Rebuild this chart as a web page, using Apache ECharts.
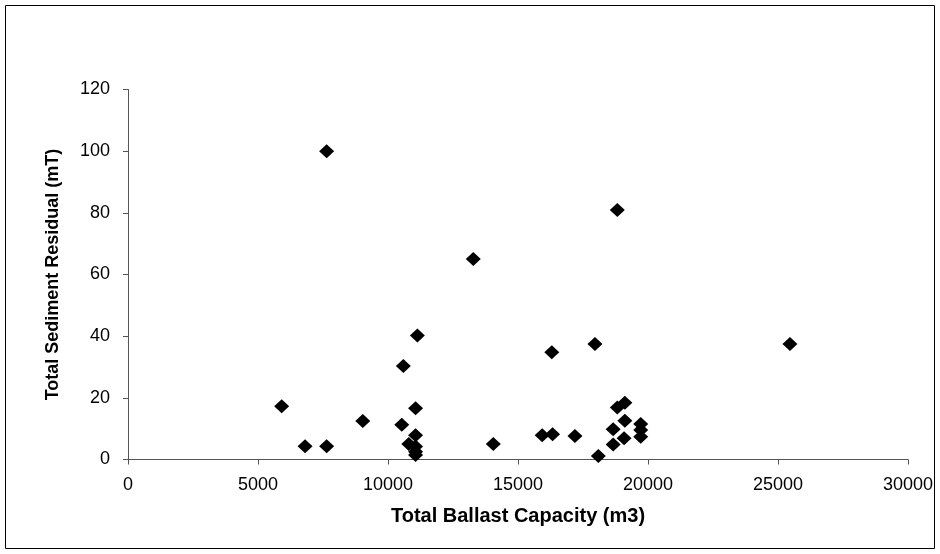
<!DOCTYPE html>
<html lang="en">
<head>
    <meta charset="utf-8">
    <script src="https://cdn.jsdelivr.net/npm/echarts@6/dist/echarts.min.js"></script>
    <title></title>
    <style>
        body { margin: 0; background: #fff; }
    </style>
</head>
<body>
<div id="main" style="width: 940px;height:554px;"></div>
<script type="text/javascript">
    // ballast capacity (m3) and sediment residual (mT)
    var capacity = [5910, 6810, 7640, 7640, 9030, 10530, 10590, 10800, 11060, 11060, 11060, 11060, 11060, 11130,
        13280, 14050, 15930, 16300, 16330, 17190, 17960, 18090, 18660, 18660, 18820, 18820, 19080, 19110, 19110,
        19720, 19720, 19720, 25460];
    var residual = [17.3, 4.3, 4.3, 100, 12.5, 11.3, 30.3, 5.0, 16.6, 7.9, 4.2, 2.5, 1.5, 40.2,
        65.0, 5.0, 7.9, 34.8, 8.2, 7.6, 37.5, 1.1, 9.8, 4.9, 16.9, 80.9, 6.9, 12.6, 18.4,
        11.5, 9.6, 7.4, 37.5];

    var points = capacity.map(function (c, i) { return [c, residual[i]]; });

    var myChart = echarts.init(document.getElementById('main'));
    var font = 'Liberation Sans, Arial, sans-serif';
    var axisLine = {show: true, lineStyle: {color: '#555', width: 1}};
    var axisTick = {show: true, inside: false, length: 5, lineStyle: {color: '#555'}};

    var option = {
        animation: false,
        graphic: [{
            type: 'rect',
            shape: {x: 5.5, y: 5.5, width: 929, height: 543},
            style: {fill: 'none', stroke: '#000', lineWidth: 1}
        }],
        grid: {left: 128, right: 32, top: 89.5, bottom: 94.5},
        xAxis: {
            type: 'value',
            min: 0, max: 30000, interval: 5000,
            name: 'Total Ballast Capacity (m3)',
            nameLocation: 'middle',
            nameGap: 47,
            nameTextStyle: {fontFamily: font, fontSize: 20, fontWeight: 'bold', color: '#000'},
            axisLine: axisLine,
            axisTick: axisTick,
            axisLabel: {
                fontFamily: font, fontSize: 18, color: '#000', margin: 17,
                formatter: function (v) { return String(v); }
            },
            splitLine: {show: false}
        },
        yAxis: {
            type: 'value',
            min: 0, max: 120, interval: 20,
            name: 'Total Sediment Residual (mT)',
            nameLocation: 'middle',
            nameGap: 66,
            nameTextStyle: {fontFamily: font, fontSize: 18, fontWeight: 'bold', color: '#000'},
            axisLine: axisLine,
            axisTick: axisTick,
            axisLabel: {fontFamily: font, fontSize: 18, color: '#000', margin: 18},
            splitLine: {show: false}
        },
        series: [{
            type: 'scatter',
            symbol: 'diamond',
            symbolSize: [15, 14],
            itemStyle: {color: '#000', opacity: 1},
            data: points
        }]
    };

    myChart.setOption(option);
</script>
</body>
</html>
